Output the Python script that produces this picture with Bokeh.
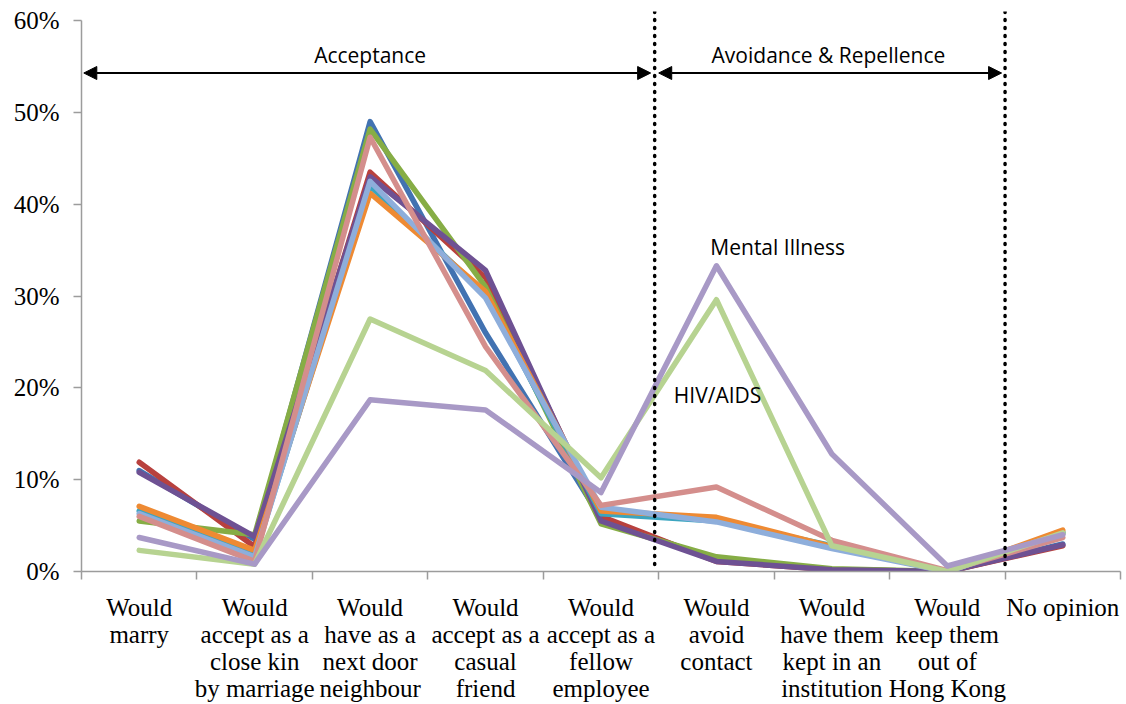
from bokeh.plotting import figure
from bokeh.models import (Range1d, FixedTicker, PrintfTickFormatter, Span, Arrow,
                          NormalHead, Label)
from bokeh.embed import file_html
from bokeh.resources import INLINE

# ---- data (percent) ----
categories = ["Would\nmarry",
              "Would\naccept as a\nclose kin\nby marriage",
              "Would\nhave as a\nnext door\nneighbour",
              "Would\naccept as a\ncasual\nfriend",
              "Would\naccept as a\nfellow\nemployee",
              "Would\navoid\ncontact",
              "Would\nhave them\nkept in an\ninstitution",
              "Would\nkeep them\nout of\nHong Kong",
              "No opinion"]

s_blue        = [11.0, 3.5, 49.0, 26.0, 5.8, 1.2, 0.2, 0.0, 3.0]
s_red         = [11.9, 2.7, 43.5, 32.0, 6.0, 1.1, 0.2, 0.0, 2.8]
s_green       = [5.5, 4.0, 48.2, 31.0, 5.2, 1.6, 0.3, 0.0, 4.2]
s_purple      = [10.8, 3.8, 43.0, 32.8, 5.5, 1.1, 0.2, 0.0, 2.9]
s_aqua        = [6.6, 1.8, 42.0, 30.2, 6.3, 5.5, 2.8, 0.0, 4.3]
s_orange      = [7.1, 2.3, 41.2, 30.5, 6.6, 5.9, 2.7, 0.0, 4.5]
s_lightblue   = [6.3, 1.6, 42.5, 29.8, 7.0, 5.4, 2.5, 0.0, 4.1]
s_pink        = [6.0, 1.1, 47.3, 24.5, 7.2, 9.2, 3.4, 0.1, 3.7]
s_lightgreen  = [2.3, 0.8, 27.5, 21.9, 10.2, 29.6, 2.8, 0.0, 4.2]   # HIV/AIDS
s_lightpurple = [3.7, 0.8, 18.7, 17.6, 8.6, 33.3, 12.8, 0.6, 4.0]   # Mental Illness

y_ticks = [0, 10, 20, 30, 40, 50, 60]

series = [
    (s_blue, "#4272B1"),
    (s_red, "#B8413E"),
    (s_green, "#86AD45"),
    (s_purple, "#6E5193"),
    (s_aqua, "#3BA5C0"),
    (s_orange, "#EE8A33"),
    (s_lightblue, "#8EAEDB"),
    (s_pink, "#D48E8C"),
    (s_lightgreen, "#B7D391"),
    (s_lightpurple, "#A899C6"),
]

n = len(categories)
xc = [i + 0.5 for i in range(n)]

p = figure(width=1126, height=704, output_backend="svg", toolbar_location=None,
           x_range=Range1d(0, n), y_range=Range1d(0, 61),
           min_border_left=81, min_border_right=6, min_border_top=11, min_border_bottom=10)
p.outline_line_color = None
p.xgrid.visible = False
p.ygrid.visible = False
p.background_fill_color = "white"

for vals, col in series:
    p.line(xc, vals, line_color=col, line_width=5.5, line_join="round", line_cap="round")

axis_col = "#9C9C9C"
# y axis
p.yaxis.ticker = FixedTicker(ticks=y_ticks)
p.yaxis.formatter = PrintfTickFormatter(format="%d%%")
p.yaxis.bounds = (0, 60)
p.yaxis.axis_line_color = axis_col
p.yaxis.axis_line_width = 1.5
p.yaxis.major_tick_line_color = axis_col
p.yaxis.major_tick_line_width = 1.5
p.yaxis.major_tick_out = 8
p.yaxis.major_tick_in = 0
p.yaxis.minor_tick_line_color = None
p.yaxis.major_label_text_font = "Liberation Serif"
p.yaxis.major_label_text_font_size = "25px"
p.yaxis.major_label_text_color = "black"
p.yaxis.major_label_standoff = 14

# x axis
p.xaxis.ticker = FixedTicker(ticks=xc, minor_ticks=list(range(n + 1)))
p.xaxis.major_label_overrides = {x: lab for x, lab in zip(xc, categories)}
p.xaxis.axis_line_color = axis_col
p.xaxis.axis_line_width = 1.5
p.xaxis.major_tick_line_color = None
p.xaxis.major_tick_out = 0
p.xaxis.major_tick_in = 0
p.xaxis.minor_tick_line_color = axis_col
p.xaxis.minor_tick_line_width = 1.5
p.xaxis.minor_tick_out = 8
p.xaxis.minor_tick_in = 0
p.xaxis.major_label_text_font = "Liberation Serif"
p.xaxis.major_label_text_font_size = "25px"
p.xaxis.major_label_text_color = "black"
p.xaxis.major_label_text_line_height = 1.0
p.xaxis.major_label_standoff = 14

# dotted separators
for loc in (4.965, 8.0):
    p.add_layout(Span(location=loc, dimension="height", line_color="black",
                      line_width=3.5, line_dash="1 7", line_cap="round"))

# double arrows
for xs, xe in ((0.02, 4.93), (5.0, 7.97)):
    p.add_layout(Arrow(x_start=xs, y_start=54.3, x_end=xe, y_end=54.3,
                       line_color="black", line_width=2,
                       start=NormalHead(size=13, fill_color="black", line_color="black"),
                       end=NormalHead(size=13, fill_color="black", line_color="black")))

for txt, x, y in (("Acceptance", 2.5, 56.3), ("Avoidance & Repellence", 6.47, 56.3),
                  ("Mental Illness", 6.03, 35.3), ("HIV/AIDS", 5.51, 19.2)):
    p.add_layout(Label(x=x, y=y, text=txt, text_align="center", text_baseline="middle",
                       text_font="Open Sans", text_font_size="21px", text_color="black"))

open("out.html", "w").write(file_html(p, INLINE))
